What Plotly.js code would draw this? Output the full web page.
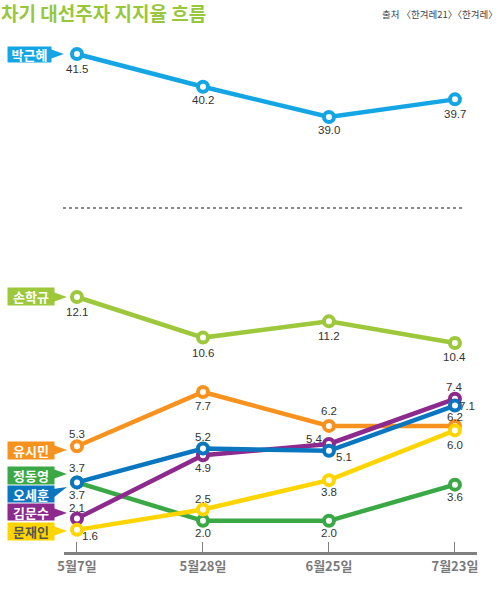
<!DOCTYPE html>
<html>
<head>
<meta charset="utf-8">
<script src="https://cdn.plot.ly/plotly-3.0.1.min.js"></script>
<style>html,body{margin:0;padding:0;background:#fff;}#chart{width:504px;height:614px;}</style>
</head>
<body>
<div id="chart"></div>
<script>
// ---- data ----
var dates = ['5월7일', '5월28일', '6월25일', '7월23일'];
var names = ['박근혜', '손학규', '유시민', '정동영', '오세훈', '김문수', '문재인'];
var park  = [41.5, 40.2, 39.0, 39.7];
var sohn  = [12.1, 10.6, 11.2, 10.4];
var yoo   = [5.3, 7.7, 6.2, 6.2];
var chung = [3.7, 2.0, 2.0, 3.6];
var oh    = [3.7, 5.2, 5.1, 7.1];
var kim   = [2.1, 4.9, 5.4, 7.4];
var moon  = [1.6, 2.5, 3.8, 6.0];
var titleText = '차기 대선주자 지지율 흐름';
var sourceText = '출처 〈한겨레21〉〈한겨레〉';

// ---- styling ----
var W = 504, H = 614;
function px(x){ return x / W; }
function py(y){ return 1 - y / H; }
var colors = {
  park: '#14a6e4', sohn: '#9dc83c', yoo: '#f7921e', chung: '#3aa845',
  oh: '#0b76c0', kim: '#8c2a8e', moon: '#fed500'
};
var numFont = {family: '"Liberation Sans Narrow", "Arial Narrow", "Liberation Sans", Arial, sans-serif', size: 11.5, color: '#333'};

var annotations = [];
var shapes = [];

// label offsets in pixels [dx, dy] (dy positive = downward)
function series(name, y, color, yaxis, offs){
  y.forEach(function(v, i){
    annotations.push({
      xref: 'x', yref: yaxis, x: dates[i], y: v, showarrow: false,
      xanchor: 'center', yanchor: 'middle',
      xshift: offs[i][0], yshift: -offs[i][1],
      text: v.toFixed(1), font: numFont
    });
  });
  return {
    type: 'scatter', mode: 'lines+markers', name: name,
    x: dates, y: y, yaxis: yaxis, xaxis: 'x', cliponaxis: false,
    line: {color: color, width: 4.5},
    marker: {size: 10, color: '#fff', line: {color: color, width: 4}},
    hoverinfo: 'skip'
  };
}

var traces = [
  series(names[1], sohn, colors.sohn, 'y3', [[0,15],[0,15],[0,15],[0,14]]),
  series(names[0], park, colors.park, 'y2', [[0,15],[0,13],[0,13],[0,15]]),
  series(names[3], chung, colors.chung, 'y', [[0,-14],[0,12],[0,12],[0,12]]),
  series(names[2], yoo, colors.yoo, 'y', [[0,-12],[0,14],[0,-15],[0,-9]]),
  series(names[5], kim, colors.kim, 'y', [[0,-11],[0,13],[-14,-5],[0,-12]]),
  series(names[4], oh, colors.oh, 'y', [[0,13],[0,-11],[15,6],[12,0]]),
  series(names[6], moon, colors.moon, 'y', [[13,6],[0,-11],[0,12],[0,15]])
];

// name tags: box vertical extent, tip y, colour, text colour
var tags = [
  {n: names[0], top: 47, bot: 62, right: 50, tip: 54, c: colors.park, tc: '#fff'},
  {n: names[1], top: 288, bot: 305, right: 53, tip: 297, c: colors.sohn, tc: '#fff'},
  {n: names[2], top: 442, bot: 459, right: 53, tip: 450, c: colors.yoo, tc: '#fff'},
  {n: names[3], top: 467, bot: 484, right: 53, tip: 474, c: colors.chung, tc: '#fff'},
  {n: names[4], top: 486, bot: 502, right: 53, tip: 487, c: colors.oh, tc: '#fff', up: true},
  {n: names[5], top: 504, bot: 520, right: 53, tip: 513, c: colors.kim, tc: '#fff'},
  {n: names[6], top: 523, bot: 540, right: 53, tip: 531, c: colors.moon, tc: '#555'}
];

tags.forEach(function(t){
  annotations.push({
    xref: 'paper', yref: 'paper', x: px(7), y: py((t.top + t.bot) / 2),
    xanchor: 'left', yanchor: 'middle', showarrow: false,
    text: '<b>' + t.n + '</b>', width: t.right - 7, height: t.bot - t.top,
    bgcolor: t.c, borderpad: 0, align: 'center',
    font: {family: '"Noto Sans CJK KR", sans-serif', size: 13, color: t.tc}
  });
  var a, b;
  if (t.up) { a = t.top + 3; b = t.top + 12; } else { a = t.tip - 5; b = t.tip + 5; }
  shapes.push({
    type: 'path', xref: 'paper', yref: 'paper', line: {width: 0}, fillcolor: t.c,
    path: 'M ' + px(t.right) + ',' + py(a) + ' L ' + px(t.right) + ',' + py(b) +
          ' L ' + px(t.right + 14) + ',' + py(t.tip) + ' Z'
  });
});

// dotted break line
shapes.push({
  type: 'line', xref: 'paper', yref: 'paper',
  x0: px(63), x1: px(462), y0: py(208), y1: py(208),
  line: {color: '#8a8a8a', width: 2, dash: 'dot'}
});

annotations.push({
  xref: 'paper', yref: 'paper', x: px(-1), y: py(12), xanchor: 'left', yanchor: 'middle',
  showarrow: false, text: '<b>' + titleText + '</b>',
  font: {family: '"Noto Sans CJK KR", sans-serif', size: 19, color: '#98c73c'}
});
annotations.push({
  xref: 'paper', yref: 'paper', x: px(500), y: py(14), xanchor: 'right', yanchor: 'middle',
  showarrow: false, text: sourceText,
  font: {family: '"Noto Sans CJK KR", sans-serif', size: 9.5, color: '#444'}
});

var layout = {
  width: W, height: H,
  margin: {l: 0, r: 0, t: 0, b: 0},
  paper_bgcolor: '#fff', plot_bgcolor: 'rgba(0,0,0,0)',
  showlegend: false,
  xaxis: {
    type: 'category', domain: [px(64), px(477)], range: [-0.103, 3.175],
    showline: true, linecolor: '#808080', linewidth: 3,
    ticks: 'inside', ticklen: 10, tickwidth: 1, tickcolor: '#808080',
    showgrid: false, zeroline: false, fixedrange: true,
    tickfont: {family: '"Noto Sans CJK KR", sans-serif', size: 13, color: '#7a7a7a', weight: 'bold'},
    anchor: 'y'
  },
  yaxis: {domain: [py(552), py(370)], range: [0.62, 8.673], visible: false, fixedrange: true, anchor: 'x'},
  yaxis2: {domain: [py(140), py(40)], range: [38.087, 42.056], visible: false, fixedrange: true, anchor: 'x'},
  yaxis3: {domain: [py(360), py(260)], range: [9.772, 13.467], visible: false, fixedrange: true, anchor: 'x'},
  annotations: annotations,
  shapes: shapes
};

Plotly.newPlot('chart', traces, layout, {staticPlot: true, displayModeBar: false});
</script>
</body>
</html>
